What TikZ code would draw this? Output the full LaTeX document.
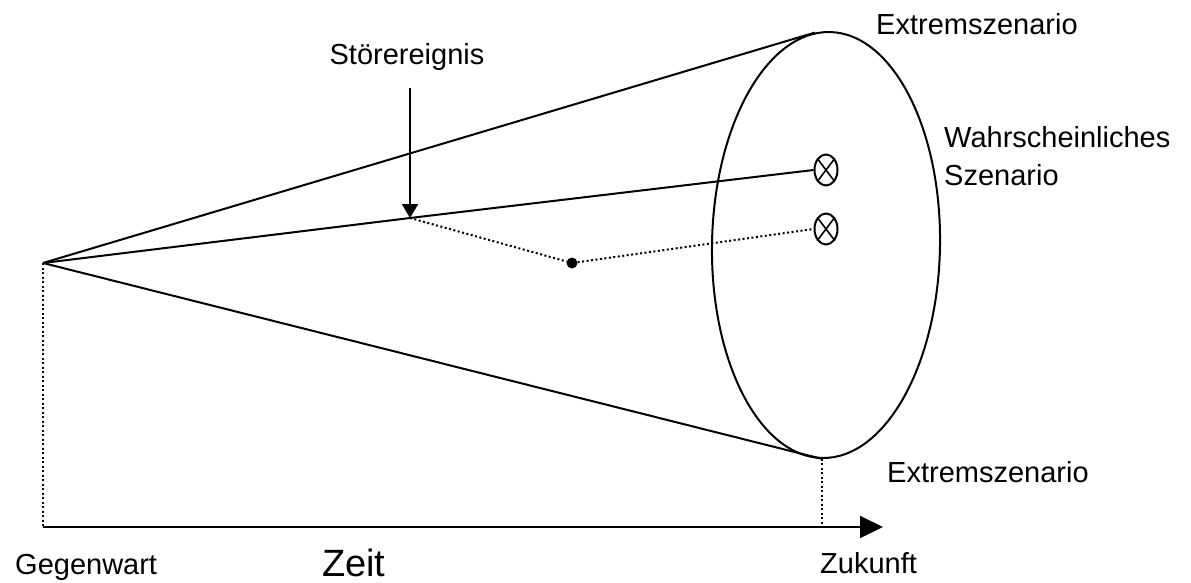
\documentclass[tikz,border=0pt]{standalone}
\usepackage{fontspec}
\setmainfont{Liberation Sans}
\usetikzlibrary{arrows.meta,shapes.geometric}
\begin{document}
\begin{tikzpicture}[x=1pt,y=-1pt,
  line/.style={line width=2pt, line join=round},
  dots/.style={line width=2pt, dash pattern=on 2pt off 2.5pt},
  lbl/.style={font=\fontsize{29}{34}\selectfont, inner sep=0pt, anchor=base west},
  xmark/.style={draw, ellipse, line width=2pt, minimum width=23pt, minimum height=31pt, inner sep=0pt},
  xline/.style={line width=1.6pt}]
\useasboundingbox (0,0) rectangle (1191,583);
% points
\coordinate (apex) at (43,263);
\coordinate (ev) at (410,218);
\coordinate (evTop) at (410,88);
\coordinate (axisL) at (43,527);
\coordinate (axisR) at (883,527);
% cylinder face
\node[draw, ellipse, line width=2pt, minimum width=228pt, minimum height=426pt, inner sep=0pt, rotate=-1] (cyl) at (826,245) {};
% cone
\draw[line] (apex) -- (cyl.94);
\draw[line] (apex) -- (cyl.south);
% scenario marks
\node[xmark] (s1) at (826,170) {};
\draw[xline] (s1.north west) -- (s1.south east) (s1.north east) -- (s1.south west);
\node[xmark] (s2) at (826,229) {};
\draw[xline] (s2.north west) -- (s2.south east) (s2.north east) -- (s2.south west);
\node[circle, fill, inner sep=0pt, minimum size=11pt] (dot) at (572,263) {};
% trajectories
\draw[line] (apex) -- (ev) -- (s1.west);
\draw[dots] (ev) -- (dot) -- (s2.west);
% disturbance arrow
\draw[line, -{Triangle[length=14pt,width=16pt]}] (evTop) -- (ev);
% axis
\draw[line, -{Triangle[length=23pt,width=22pt]}] (axisL) -- (axisR);
\draw[dots] (apex) -- (axisL);
\draw[dots] (cyl.south) -- (cyl.south |- axisL);
% labels
\node[lbl, anchor=base] (st) at (407,65) {Störereignis};
\node[lbl] (ex1) at (876,35) {Extremszenario};
\node[lbl] (w1) at (944,148) {Wahrscheinliches};
\node[lbl] (w2) at (944,185) {Szenario};
\node[lbl] (ex2) at (887,482) {Extremszenario};
\node[lbl] (ge) at (15,574) {Gegenwart};
\node[lbl] (zu) at (820,573) {Zukunft};
\node[lbl, font=\fontsize{38}{44}\selectfont] (ze) at (322,576) {Zeit};
\end{tikzpicture}
\end{document}
